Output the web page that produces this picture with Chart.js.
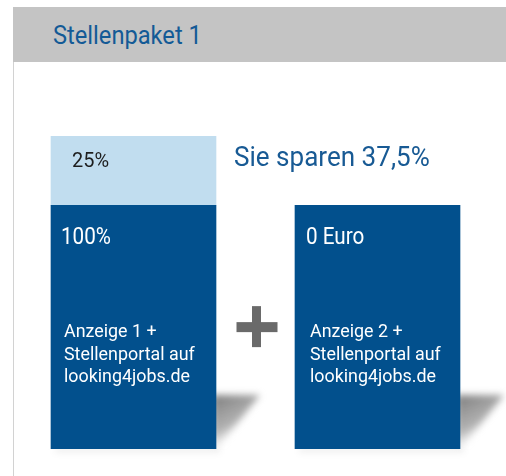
<!DOCTYPE html>
<html>
<head>
<meta charset="utf-8">
<script src="https://cdn.jsdelivr.net/npm/chart.js@4"></script>
<style>
  body { margin: 0; background: #fff; font-family: Roboto, "Noto Sans", sans-serif; }
  #wrap { position: relative; width: 506px; height: 476px; overflow: hidden; }
  #chart { position: absolute; left: 0; top: 0; }
  #frame { position: absolute; left: 13px; top: 62px; width: 1px; height: 414px; background: #d2d2d2; }
  #header { position: absolute; left: 13px; top: 7px; width: 493px; height: 55px; background: #c4c4c4; }
  #header span { position: absolute; left: 40px; top: 13px; font-size: 26px; color: #135a96; white-space: nowrap;
                 transform: scaleX(0.91); transform-origin: left top; }
</style>
</head>
<body>
<div id="wrap">
  <canvas id="chart" width="506" height="476"></canvas>
  <div id="frame"></div>
  <div id="header"><span>Stellenpaket 1</span></div>
</div>
<script>
// Data
const categories = ['Anzeige 1', 'Anzeige 2'];
const baseValues = [100, 100];
const extraValues = [25, null];
const baseLabels = ['100%', '0 Euro'];
const extraLabels = ['25%', ''];
const barTexts = [
    ['Anzeige 1 +', 'Stellenportal auf', 'looking4jobs.de'],
    ['Anzeige 2 +', 'Stellenportal auf', 'looking4jobs.de']
];
const savingText = 'Sie sparen 37,5%';

const DARK = '#02508d';
const LIGHT = '#c1ddef';

// narrow text, the original uses a condensed face
function narrowText(ctx, text, x, y, size, sx) {
    ctx.save();
    ctx.font = size + 'px Roboto';
    ctx.translate(x, y);
    ctx.scale(sx, 1);
    ctx.fillText(text, 0, 0);
    ctx.restore();
}

// shadows behind the bars and the plus sign between them
const decorPlugin = {
    id: 'decor',
    beforeDatasetsDraw(chart) {
        const ctx = chart.ctx;
        const bars = chart.getDatasetMeta(0).data;
        ctx.save();
        ctx.filter = 'blur(3.5px)';
        bars.forEach(bar => {
            const right = bar.x + bar.width / 2;
            const bottom = chart.chartArea.bottom;
            const top = bottom - 54;
            const grad = ctx.createLinearGradient(right, top, right + 26, bottom - 6);
            grad.addColorStop(0, 'rgba(120,120,120,0.95)');
            grad.addColorStop(0.6, 'rgba(145,145,145,0.7)');
            grad.addColorStop(1, 'rgba(255,255,255,0)');
            ctx.fillStyle = grad;
            ctx.beginPath();
            ctx.moveTo(right - 4, top);
            ctx.lineTo(right + 44, top);
            ctx.lineTo(right + 3, bottom - 3);
            ctx.lineTo(right - 4, bottom - 3);
            ctx.closePath();
            ctx.fill();
            // faint shadow below the bar
            ctx.fillStyle = 'rgba(0,0,0,0.08)';
            ctx.fillRect(bar.x - bar.width / 2 + 4, bottom - 2, bar.width, 5);
        });
        ctx.restore();
    },
    afterDatasetsDraw(chart) {
        const ctx = chart.ctx;
        const dark = chart.getDatasetMeta(0).data;
        const light = chart.getDatasetMeta(1).data;
        const b1 = dark[0], b2 = dark[1];

        // plus sign
        const cx = ((b1.x + b1.width / 2) + (b2.x - b2.width / 2)) / 2 + 1;
        const cy = (b1.y + chart.chartArea.bottom) / 2;
        ctx.save();
        ctx.fillStyle = '#6a6a6a';
        ctx.fillRect(cx - 20, cy - 5, 41, 10);
        ctx.fillRect(cx - 4.5, cy - 21, 9, 41);

        ctx.textBaseline = 'alphabetic';
        ctx.textAlign = 'left';
        dark.forEach((bar, i) => {
            const left = bar.x - bar.width / 2;
            ctx.fillStyle = '#ffffff';
            narrowText(ctx, baseLabels[i], left + 10 + i, bar.y + 39, 23.5, 0.88);
            barTexts[i].forEach((line, j) => {
                narrowText(ctx, line, left + 13 + i * 2, bar.y + 132 + j * 22.5, 19, 0.94);
            });
        });
        light.forEach((bar, i) => {
            if (!extraLabels[i]) return;
            const left = bar.x - bar.width / 2;
            ctx.fillStyle = '#1e1e1e';
            narrowText(ctx, extraLabels[i], left + 21, bar.y + 31, 21, 0.95);
        });

        // saving note next to the light segment
        ctx.fillStyle = '#185a94';
        narrowText(ctx, savingText, b2.x - b2.width / 2 - 61, light[0].y + 30, 27, 0.965);
        ctx.restore();
    }
};

new Chart(document.getElementById('chart'), {
    type: 'bar',
    data: {
        labels: categories,
        datasets: [{
            label: 'Preis',
            data: baseValues,
            backgroundColor: DARK,
            clip: 0
        }, {
            label: 'Aufpreis',
            data: extraValues,
            backgroundColor: LIGHT,
            clip: 0
        }]
    },
    options: {
        responsive: false,
        animation: false,
        events: [],
        layout: { padding: { left: 11.5, right: 6.5, top: 136, bottom: 27 } },
        datasets: { bar: { barThickness: 165, borderWidth: 0 } },
        plugins: {
            legend: { display: false },
            tooltip: { enabled: false }
        },
        scales: {
            x: { stacked: true, display: false },
            y: { stacked: true, display: false, min: 12, max: 125 }
        }
    },
    plugins: [decorPlugin]
});
</script>
</body>
</html>
